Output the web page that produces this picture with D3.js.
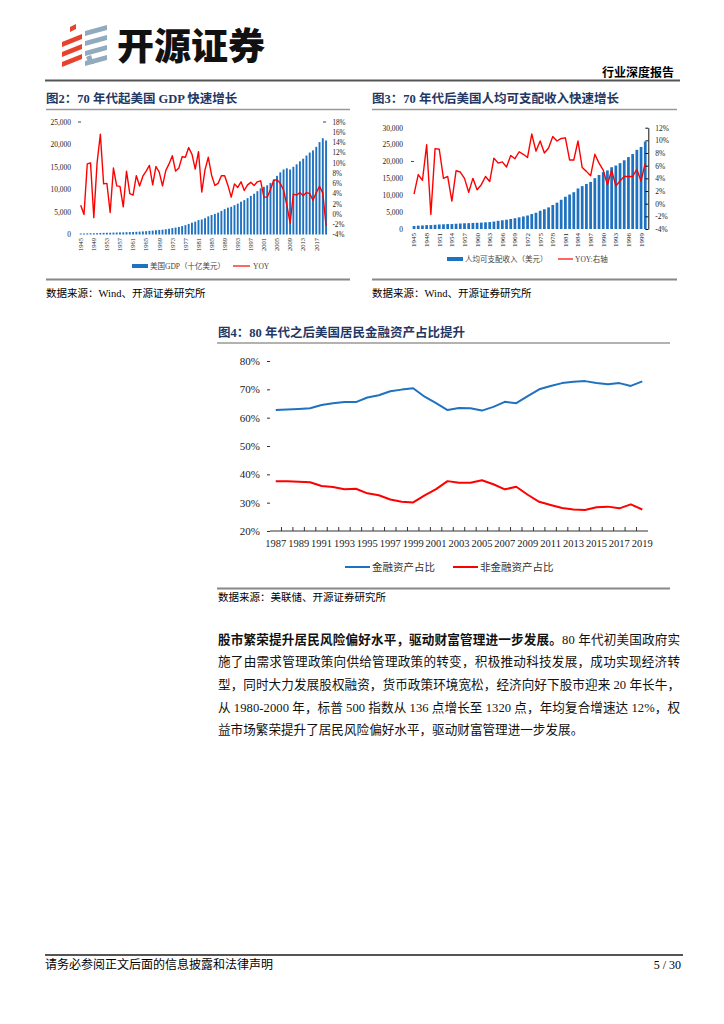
<!DOCTYPE html>
<html><head><meta charset="utf-8">
<script src="https://cdn.jsdelivr.net/npm/d3@7"></script>
<style>body{margin:0;background:#fff}svg{display:block}</style>
</head><body>
<script>
// ---------------- DATA ----------------
const gdpYears = [1945,1946,1947,1948,1949,1950,1951,1952,1953,1954,1955,1956,1957,1958,1959,1960,1961,1962,1963,1964,1965,1966,1967,1968,1969,1970,1971,1972,1973,1974,1975,1976,1977,1978,1979,1980,1981,1982,1983,1984,1985,1986,1987,1988,1989,1990,1991,1992,1993,1994,1995,1996,1997,1998,1999,2000,2001,2002,2003,2004,2005,2006,2007,2008,2009,2010,2011,2012,2013,2014,2015,2016,2017,2018,2019,2020];
const gdpValues = [228,228,250,275,275,300,347,367,389,391,426,450,474,481,522,543,563,605,639,686,744,815,862,943,1019,1073,1165,1280,1425,1545,1685,1873,2081,2352,2627,2857,3207,3344,3634,4037,4339,4580,4855,5236,5642,5963,6158,6520,6859,7287,7640,8073,8578,9063,9631,10252,10582,10936,11458,12214,13037,13815,14452,14713,14449,15049,15600,16254,16843,17551,18206,18695,19477,20533,21381,20894];
const gdpYoy = [1.7,-0.1,9.8,10.0,-0.7,10.0,15.6,5.9,6.0,0.3,9.0,5.5,5.4,1.4,8.4,4.0,3.7,7.5,5.5,7.4,8.4,9.5,5.7,9.3,8.2,5.5,8.5,9.8,11.4,8.4,9.0,11.2,11.1,13.0,11.7,8.8,12.2,4.3,8.7,11.1,7.6,5.6,6.0,7.5,7.5,5.6,3.3,5.9,5.2,6.3,4.6,5.7,6.2,5.6,6.3,6.5,3.3,3.3,4.8,6.6,6.7,6.0,4.7,1.8,-1.8,3.9,3.7,4.2,3.6,4.2,4.0,2.7,4.2,5.4,4.1,-2.3];
const gdpXTicks = [1945,1949,1953,1957,1961,1965,1969,1973,1977,1981,1985,1989,1993,1997,2001,2005,2009,2013,2017];
const gdpLeftTicks = [0,5000,10000,15000,20000,25000];
const gdpRightTicks = [-4,-2,0,2,4,6,8,10,12,14,16,18];

const dpiYears = [1945,1946,1947,1948,1949,1950,1951,1952,1953,1954,1955,1956,1957,1958,1959,1960,1961,1962,1963,1964,1965,1966,1967,1968,1969,1970,1971,1972,1973,1974,1975,1976,1977,1978,1979,1980,1981,1982,1983,1984,1985,1986,1987,1988,1989,1990,1991,1992,1993,1994,1995,1996,1997,1998,1999,2000];
const dpiValues = [900,1000,1050,1150,1150,1250,1350,1400,1460,1470,1550,1630,1700,1730,1800,1840,1900,1980,2050,2200,2420,2590,2750,2960,3180,3450,3720,4000,4440,4810,5400,5850,6400,7100,7800,8650,9550,10200,10900,12000,12700,13350,13950,15050,16000,16850,17350,18300,18800,19500,20350,21300,22200,23450,24300,25900];
const dpiYoy = [1.5,4.6,3.7,9.3,-1.7,8.7,8.6,4.0,4.3,0.4,5.2,5.0,4.0,1.8,4.0,2.2,3.0,4.3,3.5,7.2,6.4,6.6,5.8,7.6,7.1,8.2,7.8,7.3,11.0,8.3,9.9,8.0,8.8,10.6,9.9,10.3,10.4,6.9,6.9,9.9,5.7,5.1,4.4,7.8,6.4,5.3,3.0,5.3,2.8,3.6,4.3,4.3,4.3,5.4,3.6,6.4];
const dpiXTicks = [1945,1948,1951,1954,1957,1960,1963,1966,1969,1972,1975,1978,1981,1984,1987,1990,1993,1996,1999];
const dpiLeftTicks = [0,5000,10000,15000,20000,25000,30000];
const dpiRightTicks = [-4,-2,0,2,4,6,8,10,12];

const assetYears = [1987,1988,1989,1990,1991,1992,1993,1994,1995,1996,1997,1998,1999,2000,2001,2002,2003,2004,2005,2006,2007,2008,2009,2010,2011,2012,2013,2014,2015,2016,2017,2018,2019];
const finShare = [62.7,62.9,63.1,63.3,64.5,65.1,65.5,65.5,67.1,67.9,69.3,69.9,70.4,67.4,65.1,62.7,63.4,63.3,62.5,63.8,65.6,65.1,67.6,70.0,71.2,72.2,72.7,72.9,72.2,71.8,72.2,71.2,72.8];
const nonFinShare = [37.6,37.6,37.4,37.2,35.9,35.5,34.7,34.9,33.3,32.6,31.1,30.3,30.1,32.6,34.8,37.6,37.0,37.0,37.9,36.5,34.7,35.6,32.8,30.3,29.2,28.1,27.6,27.4,28.4,28.6,28.0,29.4,27.6];
const assetXTicks = [1987,1989,1991,1993,1995,1997,1999,2001,2003,2005,2007,2009,2011,2013,2015,2017,2019];
const assetYTicks = [20,30,40,50,60,70,80];

// ---------------- SETUP ----------------
const W = 724, H = 1024;
const SERIF = '"Liberation Serif","Noto Sans CJK SC",serif';
const CJK = '"Noto Sans CJK SC","Liberation Serif",sans-serif';
const BLUE = "#1f72c0", RED = "#ff0000", NAVY = "#1f3864";
const svg = d3.select("body").append("svg").attr("width", W).attr("height", H)
  .style("background", "#fff");

function hline(x1, x2, y, color, w) {
  svg.append("line").attr("x1", x1).attr("x2", x2).attr("y1", y).attr("y2", y)
    .attr("stroke", color).attr("stroke-width", w);
}
function text(x, y, s, size, opts = {}) {
  return svg.append("text").attr("x", x).attr("y", y).text(s)
    .attr("font-size", size).attr("font-family", opts.family || SERIF)
    .attr("font-weight", opts.weight || "normal")
    .attr("fill", opts.fill || "#000")
    .attr("text-anchor", opts.anchor || "start");
}

// ---------------- HEADER ----------------
const logo = svg.append("g");
[0, 1, 2].forEach(i => {
  const y0 = 34 + i * 10;
  logo.append("polygon").attr("points", `62,${y0+8} 82,${y0} 82,${y0+5} 62,${y0+13}`).attr("fill", "#e8412c");
});
logo.append("polygon").attr("points", "70,27 76,24 76,29 70,32").attr("fill", "#e8412c");
[0, 1, 2, 3].forEach(i => {
  const y0 = 25 + i * 10;
  logo.append("polygon").attr("points", `85,${y0+6} 107,${y0} 107,${y0+5} 85,${y0+11}`).attr("fill", "#90abbd");
});
logo.append("polygon").attr("points", "86,57 91,55 94,64 89,64").attr("fill", "#90abbd");
text(117, 60, "开源证券", 37, {family: CJK, weight: 900, fill: "#111"});
text(674, 77, "行业深度报告", 12, {weight: "bold", anchor: "end"});
hline(45, 680, 80.5, "#555", 2);

// ---------------- TITLES / FRAMES ----------------
text(46, 103, "图2：70 年代起美国 GDP 快速增长", 12.5, {weight: "bold", fill: NAVY});
text(372, 103, "图3：70 年代后美国人均可支配收入快速增长", 12.5, {weight: "bold", fill: NAVY});
hline(46, 350, 109.5, "#999", 1.5);
hline(372, 677, 109.5, "#999", 1.5);
hline(46, 350, 279.5, "#888", 2);
hline(372, 677, 279.5, "#888", 2);
text(46, 297, "数据来源：Wind、开源证券研究所", 10.5);
text(372, 297, "数据来源：Wind、开源证券研究所", 10.5);

// ---------------- CHART 2 ----------------
(function () {
  const g = svg.append("g");
  const x = d3.scaleBand().domain(gdpYears).range([78.4, 328.4]).padding(0.42);
  const yL = d3.scaleLinear().domain([0, 25000]).range([234.5, 122]);
  const yR = d3.scaleLinear().domain([-4, 18]).range([234.5, 122]);
  g.selectAll("rect.bar").data(gdpYears).join("rect").attr("class", "bar")
    .attr("x", d => x(d)).attr("width", x.bandwidth())
    .attr("y", (d, i) => yL(gdpValues[i])).attr("height", (d, i) => yL(0) - yL(gdpValues[i]))
    .attr("fill", BLUE);
  const line = d3.line().x((d, i) => x(gdpYears[i]) + x.bandwidth() / 2).y(d => yR(d));
  g.append("path").datum(gdpYoy).attr("d", line).attr("fill", "none")
    .attr("stroke", RED).attr("stroke-width", 1.4).attr("stroke-linejoin", "round");
  const ax = g.append("g").attr("transform", "translate(78,0)")
    .call(d3.axisLeft(yL).tickValues(gdpLeftTicks).tickFormat(d3.format(",")).tickSize(0).tickPadding(7));
  ax.select(".domain").remove();
  ax.selectAll("text").attr("font-family", SERIF).attr("font-size", 7.5).attr("fill", "#222");
  const axr = g.append("g").attr("transform", "translate(328.4,0)")
    .call(d3.axisRight(yR).tickValues(gdpRightTicks).tickFormat(d => d + "%").tickSize(0).tickPadding(4));
  axr.select(".domain").remove();
  axr.selectAll("text").attr("font-family", SERIF).attr("font-size", 7.2).attr("fill", "#222");
  g.append("line").attr("x1", 78).attr("x2", 81).attr("y1", yL(25000)).attr("y2", yL(25000)).attr("stroke", "#444");
  g.append("line").attr("x1", 323).attr("x2", 326).attr("y1", yR(18)).attr("y2", yR(18)).attr("stroke", "#444");
  const axb = g.append("g").attr("transform", "translate(0,236)")
    .call(d3.axisBottom(x).tickValues(gdpXTicks).tickSize(0).tickPadding(0));
  axb.select(".domain").remove();
  axb.selectAll("text").attr("font-family", SERIF).attr("font-size", 6.5).attr("fill", "#222")
    .attr("transform", "rotate(-90)").attr("text-anchor", "end").attr("x", -2).attr("y", 0).attr("dy", "0.35em");
  g.append("rect").attr("x", 132).attr("y", 264).attr("width", 16).attr("height", 4).attr("fill", BLUE);
  text(150, 269, "美国GDP（十亿美元）", 7.5, {fill: "#444"});
  g.append("line").attr("x1", 233).attr("x2", 250).attr("y1", 266).attr("y2", 266).attr("stroke", RED).attr("stroke-width", 1.2);
  text(253, 269, "YOY", 7.5, {fill: "#444"});
})();

// ---------------- CHART 3 ----------------
(function () {
  const g = svg.append("g");
  const x = d3.scaleBand().domain(dpiYears).range([411.2, 648.1]).padding(0.35);
  const yL = d3.scaleLinear().domain([0, 30000]).range([229, 127.7]);
  const yR = d3.scaleLinear().domain([-4, 12]).range([229, 127.7]);
  g.selectAll("rect.bar").data(dpiYears).join("rect").attr("class", "bar")
    .attr("x", d => x(d)).attr("width", x.bandwidth())
    .attr("y", (d, i) => yL(dpiValues[i])).attr("height", (d, i) => yL(0) - yL(dpiValues[i]))
    .attr("fill", BLUE);
  const line = d3.line().x((d, i) => x(dpiYears[i]) + x.bandwidth() / 2).y(d => yR(d));
  g.append("path").datum(dpiYoy).attr("d", line).attr("fill", "none")
    .attr("stroke", RED).attr("stroke-width", 1.4).attr("stroke-linejoin", "round");
  const ax = g.append("g").attr("transform", "translate(410,0)")
    .call(d3.axisLeft(yL).tickValues(dpiLeftTicks).tickFormat(d3.format(",")).tickSize(0).tickPadding(7));
  ax.select(".domain").remove();
  ax.selectAll("text").attr("font-family", SERIF).attr("font-size", 7.5).attr("fill", "#222");
  g.append("line").attr("x1", 411).attr("x2", 414).attr("y1", yL(20000)).attr("y2", yL(20000)).attr("stroke", "#444");
  const axr = g.append("g").attr("transform", "translate(648.3,0)")
    .call(d3.axisRight(yR).tickValues(dpiRightTicks).tickFormat(d => d + "%").tickSizeInner(-3).tickSizeOuter(0).tickPadding(7));
  axr.select(".domain").attr("stroke", "#111");
  axr.selectAll(".tick line").attr("stroke", "#111");
  axr.selectAll("text").attr("font-family", SERIF).attr("font-size", 7.5).attr("fill", "#222");
  const axb = g.append("g").attr("transform", "translate(0,231)")
    .call(d3.axisBottom(x).tickValues(dpiXTicks).tickSize(0).tickPadding(0));
  axb.select(".domain").remove();
  axb.selectAll("text").attr("font-family", SERIF).attr("font-size", 7).attr("fill", "#222")
    .attr("transform", "rotate(-90)").attr("text-anchor", "end").attr("x", -2).attr("y", 0).attr("dy", "0.35em");
  g.append("rect").attr("x", 447).attr("y", 257).attr("width", 16).attr("height", 4).attr("fill", BLUE);
  text(465, 262, "人均可支配收入（美元）", 7.5, {fill: "#444"});
  g.append("line").attr("x1", 558).attr("x2", 573).attr("y1", 259).attr("y2", 259).attr("stroke", RED).attr("stroke-width", 1.2);
  text(575, 262, "YOY:右轴", 7.5, {fill: "#444"});
})();

// ---------------- CHART 4 ----------------
text(218, 337, "图4：80 年代之后美国居民金融资产占比提升", 12.5, {weight: "bold", fill: NAVY});
hline(217, 670, 343, "#999", 1.5);
(function () {
  const g = svg.append("g");
  const x = d3.scaleBand().domain(assetYears).range([270, 648]);
  const y = d3.scaleLinear().domain([20, 80]).range([531, 361]);
  const ay = g.append("g").attr("transform", "translate(270,0)")
    .call(d3.axisLeft(y).tickValues(assetYTicks).tickFormat(d => d + "%").tickSize(3).tickPadding(7));
  ay.select(".domain").remove();
  ay.selectAll(".tick line").attr("stroke", "#333");
  ay.selectAll("text").attr("font-family", SERIF).attr("font-size", 11).attr("fill", "#222");
  g.append("line").attr("x1", 270).attr("x2", 648).attr("y1", 531).attr("y2", 531).attr("stroke", "#333");
  g.selectAll("line.bt").data(assetYears.slice(1)).join("line").attr("class", "bt")
    .attr("x1", d => x(d)).attr("x2", d => x(d)).attr("y1", 531).attr("y2", 527).attr("stroke", "#333");
  const axb = g.append("g").attr("transform", "translate(0,531)")
    .call(d3.axisBottom(x).tickValues(assetXTicks).tickSize(0).tickPadding(9));
  axb.select(".domain").remove();
  axb.selectAll("text").attr("font-family", SERIF).attr("font-size", 10.5).attr("fill", "#222");
  const mk = arr => d3.line().x((d, i) => x(assetYears[i]) + x.bandwidth() / 2).y(d => y(d))(arr);
  g.append("path").attr("d", mk(finShare)).attr("fill", "none").attr("stroke", BLUE).attr("stroke-width", 2).attr("stroke-linejoin", "round");
  g.append("path").attr("d", mk(nonFinShare)).attr("fill", "none").attr("stroke", RED).attr("stroke-width", 2).attr("stroke-linejoin", "round");
  g.append("line").attr("x1", 345).attr("x2", 370).attr("y1", 567).attr("y2", 567).attr("stroke", BLUE).attr("stroke-width", 2);
  text(372, 571, "金融资产占比", 10.5, {fill: "#333"});
  g.append("line").attr("x1", 453).attr("x2", 478).attr("y1", 567).attr("y2", 567).attr("stroke", RED).attr("stroke-width", 2);
  text(480, 571, "非金融资产占比", 10.5, {fill: "#333"});
})();
hline(217, 670, 588.5, "#888", 2);
text(218, 601, "数据来源：美联储、开源证券研究所", 10.5);

// ---------------- PARAGRAPH ----------------
const paraLines = [
  ["股市繁荣提升居民风险偏好水平，驱动财富管理进一步发展。", "80 年代初美国政府实"],
  ["", "施了由需求管理政策向供给管理政策的转变，积极推动科技发展，成功实现经济转"],
  ["", "型，同时大力发展股权融资，货币政策环境宽松，经济向好下股市迎来 20 年长牛，"],
  ["", "从 1980-2000 年，标普 500 指数从 136 点增长至 1320 点，年均复合增速达 12%，权"],
  ["", "益市场繁荣提升了居民风险偏好水平，驱动财富管理进一步发展。"]
];
paraLines.forEach((ln, i) => {
  const t = svg.append("text").attr("x", 218).attr("y", 643.5 + i * 22.7)
    .attr("font-family", SERIF).attr("font-size", 12.6).attr("fill", "#111");
  if (ln[0]) t.append("tspan").attr("font-weight", "bold").text(ln[0]);
  t.append("tspan").text(ln[1]);
  if (i < 4) t.attr("textLength", 462).attr("lengthAdjust", "spacing");
});

// ---------------- FOOTER ----------------
hline(45, 683, 955, "#555", 2);
text(45, 969, "请务必参阅正文后面的信息披露和法律声明", 12);
text(681, 969, "5 / 30", 12, {anchor: "end"});
</script>
</body></html>
